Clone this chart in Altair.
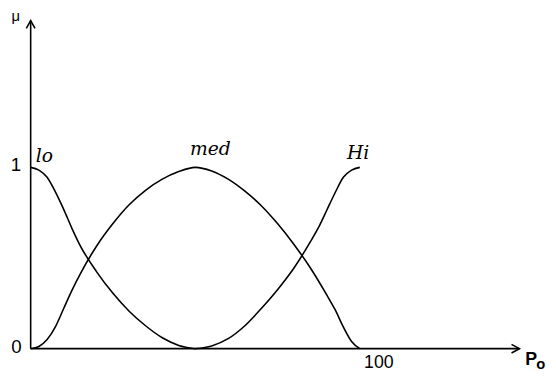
import altair as alt
import pandas as pd

# ---- data ----
lo_x = [0, 2.5, 5, 7.5, 10, 12.5, 15, 20, 25, 30, 35, 40, 45, 50]
lo_y = [1.0, 0.985, 0.945, 0.865, 0.77, 0.665, 0.57, 0.425, 0.305, 0.205, 0.125, 0.06, 0.018, 0.0]

med_x = [0, 2.5, 5, 7.5, 10, 12.5, 15, 20, 25, 30, 35, 40, 45, 50,
         55, 60, 65, 70, 75, 80, 85, 90, 92.5, 95, 97.5, 100]
med_y = [0.0, 0.012, 0.05, 0.12, 0.22, 0.32, 0.41, 0.565, 0.69, 0.795, 0.875, 0.935, 0.977, 1.0,
         0.98, 0.935, 0.87, 0.79, 0.69, 0.575, 0.445, 0.295, 0.215, 0.12, 0.04, 0.0]

hi_x = [50, 55, 60, 65, 70, 75, 80, 85, 87.5, 90, 92.5, 95, 97.5, 100]
hi_y = [0.0, 0.015, 0.055, 0.125, 0.22, 0.325, 0.445, 0.59, 0.67, 0.765, 0.86, 0.945, 0.985, 1.0]

curve_names = ["lo", "med", "Hi"]
curve_label_x = [4.2, 54.6, 99.5]
curve_label_y = [1.06, 1.10, 1.08]

tick_text = ["0", "1", "100"]
tick_x = [-4.3, -4.5, 105.8]
tick_y = [0.01, 1.01, -0.082]
tick_size = [19, 19, 18]

X_MAX = 148.5
Y_MAX = 1.81

rows = []
for name, xs_, ys_ in [("lo", lo_x, lo_y), ("med", med_x, med_y), ("Hi", hi_x, hi_y)]:
    for i, (a, b) in enumerate(zip(xs_, ys_)):
        rows.append({"curve": name, "x": a, "y": b, "order": i})
curves_df = pd.DataFrame(rows)

xs = alt.Scale(domain=[0, X_MAX], nice=False, zero=False)
ys = alt.Scale(domain=[0, Y_MAX], nice=False, zero=False)


def X(f="x"):
    return alt.X(f"{f}:Q", scale=xs, axis=None)


def Y(f="y"):
    return alt.Y(f"{f}:Q", scale=ys, axis=None)


curves = alt.Chart(curves_df).mark_line(
    color="black", strokeWidth=1.6, interpolate="monotone", clip=False
).encode(x=X(), y=Y(), detail="curve:N", order="order:Q")

xaxis = alt.Chart(pd.DataFrame({"x": [0], "x2": [X_MAX], "y": [0]})).mark_rule(
    color="black", strokeWidth=1.6
).encode(x=X(), x2="x2:Q", y=Y())

yaxis = alt.Chart(pd.DataFrame({"x": [0], "y": [0], "y2": [Y_MAX]})).mark_rule(
    color="black", strokeWidth=1.6
).encode(x=X(), y=Y(), y2="y2:Q")

arrow_right = alt.Chart(pd.DataFrame({"x": [X_MAX], "y": [0]})).mark_point(
    shape="M-1,-0.55L0,0L-1,0.55", filled=False, color="black",
    strokeWidth=1.6, size=256, opacity=1
).encode(x=X(), y=Y())

arrow_up = alt.Chart(pd.DataFrame({"x": [0], "y": [Y_MAX]})).mark_point(
    shape="M-0.55,1L0,0L0.55,1", filled=False, color="black",
    strokeWidth=1.6, size=256, opacity=1
).encode(x=X(), y=Y())

labels = alt.Chart(pd.DataFrame({
    "t": curve_names, "x": curve_label_x, "y": curve_label_y
})).mark_text(
    font="DejaVu Serif", fontStyle="italic", fontSize=19, color="black",
    baseline="middle", align="center"
).encode(x=X(), y=Y(), text="t:N")

ticks = alt.Chart(pd.DataFrame({
    "t": tick_text, "x": tick_x, "y": tick_y, "s": tick_size
})).mark_text(
    font="Liberation Sans", color="black",
    baseline="middle", align="center"
).encode(x=X(), y=Y(), text="t:N", size=alt.Size("s:Q", scale=None, legend=None))

mu = alt.Chart(pd.DataFrame({"t": ["μ"], "x": [-4.5], "y": [1.81]})).mark_text(
    font="Liberation Sans", fontSize=15, color="black",
    baseline="alphabetic", align="center"
).encode(x=X(), y=Y(), text="t:N")

p_lab = alt.Chart(pd.DataFrame({"t": ["P"], "x": [150.3], "y": [-0.092]})).mark_text(
    font="Liberation Sans", fontSize=18, fontWeight="bold", color="black",
    baseline="alphabetic", align="left"
).encode(x=X(), y=Y(), text="t:N")

o_lab = alt.Chart(pd.DataFrame({"t": ["o"], "x": [153.6], "y": [-0.114]})).mark_text(
    font="Liberation Sans", fontSize=15, fontWeight="bold", color="black",
    baseline="alphabetic", align="left"
).encode(x=X(), y=Y(), text="t:N")

chart = alt.layer(
    xaxis, yaxis, arrow_right, arrow_up, curves, labels, ticks, mu, p_lab, o_lab
).properties(
    width=496, height=333,
    padding={"left": 23, "top": 10, "right": 29, "bottom": 22},
    autosize=alt.AutoSizeParams(type="none"),
).configure_view(strokeWidth=0)

chart.save("out.html", embed_options={"renderer": "svg", "actions": False})
